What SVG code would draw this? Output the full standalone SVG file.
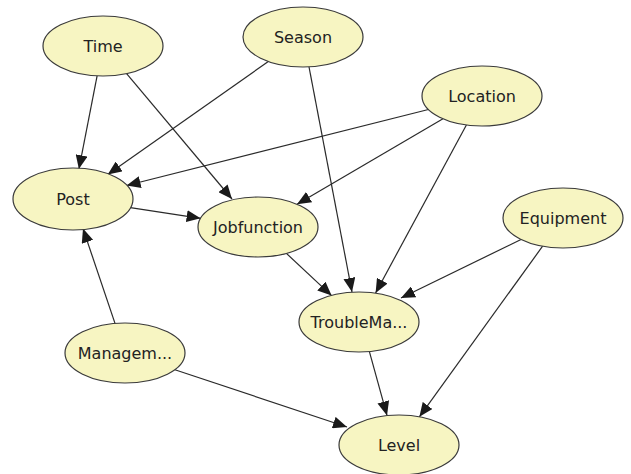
<svg xmlns="http://www.w3.org/2000/svg" width="631" height="474" viewBox="0 0 631 474">
<defs>
<style>
.node ellipse{fill:#f7f5c2;stroke:#3a3a3a;stroke-width:1.2}
.node text{font-family:"DejaVu Sans",sans-serif;font-size:16px;fill:#222;text-anchor:middle}
.edges line{stroke:#2a2a2a;stroke-width:1.2;marker-end:url(#arr)}
</style>
<marker id="arr" markerUnits="userSpaceOnUse" markerWidth="15" markerHeight="12" refX="14" refY="6" orient="auto">
<path d="M0,0 L14,6 L0,12 z" fill="#1a1a1a"/>
</marker>
</defs>
<rect width="631" height="474" fill="#fff"/>
<g class="edges" id="edges">
<line x1="97.1" y1="75.9" x2="78.9" y2="169.1"/>
<line x1="126.6" y1="73.6" x2="232" y2="199"/>
<line x1="268.3" y1="61.5" x2="107.7" y2="174.5"/>
<line x1="309" y1="66.8" x2="352" y2="292"/>
<line x1="428.4" y1="109.5" x2="126.6" y2="185.5"/>
<line x1="443" y1="118.8" x2="297" y2="204.2"/>
<line x1="466.4" y1="125" x2="375.6" y2="293"/>
<line x1="130.4" y1="207.7" x2="200.6" y2="218.3"/>
<line x1="286.4" y1="253.4" x2="331.6" y2="295.6"/>
<line x1="521" y1="239.5" x2="401" y2="298"/>
<line x1="542.6" y1="246.2" x2="419.4" y2="416.8"/>
<line x1="369.4" y1="351.6" x2="387" y2="415.4"/>
<line x1="174.9" y1="369.7" x2="347" y2="427"/>
<line x1="115" y1="323.4" x2="83" y2="228.6"/>
</g>
<g class="node" id="time"><ellipse cx="103" cy="46" rx="60" ry="30"/><text x="103" y="52">Time</text></g>
<g class="node" id="season"><ellipse cx="303" cy="37" rx="60" ry="30"/><text x="303" y="43">Season</text></g>
<g class="node" id="location"><ellipse cx="482" cy="96" rx="60" ry="30"/><text x="482" y="102">Location</text></g>
<g class="node" id="post"><ellipse cx="73" cy="199" rx="60" ry="31"/><text x="73" y="205">Post</text></g>
<g class="node" id="jobfunction"><ellipse cx="258" cy="227" rx="60" ry="30"/><text x="258" y="233">Jobfunction</text></g>
<g class="node" id="equipment"><ellipse cx="563" cy="218" rx="60" ry="30"/><text x="563" y="224">Equipment</text></g>
<g class="node" id="troublema"><ellipse cx="359" cy="322" rx="60" ry="30"/><text x="359" y="328">TroubleMa...</text></g>
<g class="node" id="managem"><ellipse cx="125" cy="353" rx="60" ry="30"/><text x="125" y="359">Managem...</text></g>
<g class="node" id="level"><ellipse cx="399" cy="445" rx="60" ry="30"/><text x="399" y="451">Level</text></g>
</svg>
